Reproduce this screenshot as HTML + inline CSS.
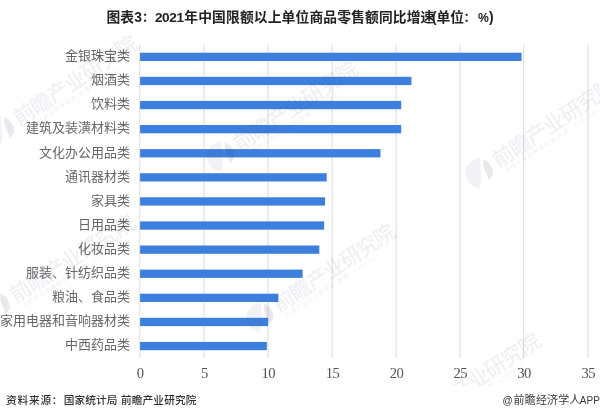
<!DOCTYPE html>
<html lang="zh-CN">
<head>
<meta charset="utf-8">
<title>图表3：2021年中国限额以上单位商品零售额同比增速</title>
<style>
html,body{margin:0;padding:0;background:#fff;}
body{width:600px;height:417px;overflow:hidden;}
svg{display:block;}
text{font-family:"Liberation Sans","Noto Sans CJK SC",sans-serif;}
.title{font-size:13.75px;font-weight:bold;fill:#222;}
.cat{font-size:13px;fill:#666;text-anchor:end;}
.tick{font-family:"Liberation Serif",serif;font-size:14.6px;fill:#525252;text-anchor:middle;letter-spacing:-0.5px;}
.src{font-size:10.7px;font-weight:500;fill:#303030;}
.app{font-size:11px;fill:#383838;}
.wmk{opacity:1;}
.lg1{fill:#37466e;fill-opacity:0.07;}
.lg2{fill:#37466e;fill-opacity:0.12;}
.wm{font-size:21.4px;font-weight:500;fill:#37466e;fill-opacity:0.08;letter-spacing:-1px;}
.wms{font-size:5.4px;font-weight:500;fill:#37466e;fill-opacity:0.075;letter-spacing:1.3px;}
.grid line{stroke:#dadada;stroke-width:1;}
.bars rect{fill:#3d7fde;}
</style>
</head>
<body>
<svg width="600" height="417" viewBox="0 0 600 417">
<rect x="0" y="0" width="600" height="417" fill="#ffffff"/>
<g class="grid">
<line x1="139.80" y1="44.9" x2="139.80" y2="357.6"/>
<line x1="204.00" y1="44.9" x2="204.00" y2="357.6"/>
<line x1="268.00" y1="44.9" x2="268.00" y2="357.6"/>
<line x1="332.20" y1="44.9" x2="332.20" y2="357.6"/>
<line x1="396.20" y1="44.9" x2="396.20" y2="357.6"/>
<line x1="460.00" y1="44.9" x2="460.00" y2="357.6"/>
<line x1="523.70" y1="44.9" x2="523.70" y2="357.6"/>
<line x1="588.00" y1="44.9" x2="588.00" y2="357.6"/>
</g>
<g class="bars">
<rect x="140.1" y="52.70" width="381.44" height="8.3"/>
<rect x="140.1" y="76.80" width="271.36" height="8.3"/>
<rect x="140.1" y="100.90" width="261.12" height="8.3"/>
<rect x="140.1" y="125.00" width="261.12" height="8.3"/>
<rect x="140.1" y="149.10" width="240.38" height="8.3"/>
<rect x="140.1" y="173.20" width="186.62" height="8.3"/>
<rect x="140.1" y="197.30" width="184.96" height="8.3"/>
<rect x="140.1" y="221.40" width="184.06" height="8.3"/>
<rect x="140.1" y="245.50" width="179.20" height="8.3"/>
<rect x="140.1" y="269.60" width="162.56" height="8.3"/>
<rect x="140.1" y="293.70" width="138.24" height="8.3"/>
<rect x="140.1" y="317.80" width="128.00" height="8.3"/>
<rect x="140.1" y="341.90" width="126.72" height="8.3"/>
</g>
<g class="cats">
<text class="cat" x="130.1" y="60.15">金银珠宝类</text>
<text class="cat" x="130.1" y="84.25">烟酒类</text>
<text class="cat" x="130.1" y="108.35">饮料类</text>
<text class="cat" x="130.1" y="132.45">建筑及装潢材料类</text>
<text class="cat" x="130.1" y="156.55">文化办公用品类</text>
<text class="cat" x="130.1" y="180.65">通讯器材类</text>
<text class="cat" x="130.1" y="204.75">家具类</text>
<text class="cat" x="130.1" y="228.85">日用品类</text>
<text class="cat" x="130.1" y="252.95">化妆品类</text>
<text class="cat" x="130.1" y="277.05">服装、针纺织品类</text>
<text class="cat" x="130.1" y="301.15">粮油、食品类</text>
<text class="cat" x="130.1" y="325.25">家用电器和音响器材类</text>
<text class="cat" x="130.1" y="349.35">中西药品类</text>
</g>
<g class="ticks">
<text class="tick" x="140.10" y="378">0</text>
<text class="tick" x="204.30" y="378">5</text>
<text class="tick" x="268.30" y="378">10</text>
<text class="tick" x="332.50" y="378">15</text>
<text class="tick" x="396.50" y="378">20</text>
<text class="tick" x="460.30" y="378">25</text>
<text class="tick" x="524.00" y="378">30</text>
<text class="tick" x="588.30" y="378">35</text>
</g>
<text class="title" y="21.6"><tspan x="106.6">图表</tspan><tspan x="134.2" font-size="13.8">3</tspan><tspan x="141.9" dy="0.8" font-size="12.5">：</tspan><tspan x="154.9" dy="-0.8" font-size="13.6" letter-spacing="-0.35">2021</tspan><tspan x="184.3" letter-spacing="0.15">年中国限额以上单位商品零售额同比增速</tspan><tspan x="432" letter-spacing="0">(</tspan><tspan x="436.4">单位</tspan><tspan x="463.6" dy="0.8" font-size="12.5">：</tspan><tspan x="478" dy="-0.8" font-size="12.2">%</tspan><tspan x="488.9">)</tspan></text>
<g class="wmk">
<g transform="translate(1.5 133.2) scale(1.0)"><g transform="translate(-2.6 -2)"><path class="lg1" d="M2 -14.9 A15 15 0 0 0 1 15 Q4.5 8 3.2 0 Q2 -8 2 -14.9 Z"/><path class="lg2" d="M5.5 -14 A15 15 0 0 1 15 1 L11.2 7.2 L5.5 -7 Z"/></g><g transform="rotate(-33.5)"><text class="wm" x="18.5" y="4.5">前瞻产业研究院</text><text class="wms" x="23" y="12.6">中国产业咨询领导者(股票: 839599)</text></g></g>
<g transform="translate(222 158.5) scale(1.0)"><g transform="translate(-2.6 -2)"><path class="lg1" d="M2 -14.9 A15 15 0 0 0 1 15 Q4.5 8 3.2 0 Q2 -8 2 -14.9 Z"/><path class="lg2" d="M5.5 -14 A15 15 0 0 1 15 1 L11.2 7.2 L5.5 -7 Z"/></g><g transform="rotate(-33.5)"><text class="wm" x="18.5" y="4.5">前瞻产业研究院</text><text class="wms" x="23" y="12.6">中国产业咨询领导者(股票: 839599)</text></g></g>
<g transform="translate(480.5 175.2) scale(1.0)"><g transform="translate(-2.6 -2)"><path class="lg1" d="M2 -14.9 A15 15 0 0 0 1 15 Q4.5 8 3.2 0 Q2 -8 2 -14.9 Z"/><path class="lg2" d="M5.5 -14 A15 15 0 0 1 15 1 L11.2 7.2 L5.5 -7 Z"/></g><g transform="rotate(-33.5)"><text class="wm" x="18.5" y="4.5">前瞻产业研究院</text><text class="wms" x="23" y="12.6">中国产业咨询领导者(股票: 839599)</text></g></g>
<g transform="translate(-2.5 309.5) scale(1.0)"><g transform="translate(-2.6 -2)"><path class="lg1" d="M2 -14.9 A15 15 0 0 0 1 15 Q4.5 8 3.2 0 Q2 -8 2 -14.9 Z"/><path class="lg2" d="M5.5 -14 A15 15 0 0 1 15 1 L11.2 7.2 L5.5 -7 Z"/></g><g transform="rotate(-32.3)"><text class="wm" x="18.5" y="4.5">前瞻产业研究院</text><text class="wms" x="23" y="12.6">中国产业咨询领导者(股票: 839599)</text></g></g>
<g transform="translate(261.3 319.3) scale(0.985)"><g transform="translate(-2.6 -2)"><path class="lg1" d="M2 -14.9 A15 15 0 0 0 1 15 Q4.5 8 3.2 0 Q2 -8 2 -14.9 Z"/><path class="lg2" d="M5.5 -14 A15 15 0 0 1 15 1 L11.2 7.2 L5.5 -7 Z"/></g><g transform="rotate(-33.2)"><text class="wm" x="18.5" y="4.5">前瞻产业研究院</text><text class="wms" x="23" y="12.6">中国产业咨询领导者(股票: 839599)</text></g></g>
<g transform="translate(404.9 430.5) scale(1.0)"><g transform="translate(-2.6 -2)"><path class="lg1" d="M2 -14.9 A15 15 0 0 0 1 15 Q4.5 8 3.2 0 Q2 -8 2 -14.9 Z"/><path class="lg2" d="M5.5 -14 A15 15 0 0 1 15 1 L11.2 7.2 L5.5 -7 Z"/></g><g transform="rotate(-33.5)"><text class="wm" x="18.5" y="4.5">前瞻产业研究院</text><text class="wms" x="23" y="12.6">中国产业咨询领导者(股票: 839599)</text></g></g>
</g>
<rect x="0" y="386" width="600" height="31" fill="#ffffff"/>
<text class="src" y="404.2"><tspan x="6.1" letter-spacing="0.75">资料来源：</tspan><tspan x="63.7" letter-spacing="0.1">国家统计局 </tspan><tspan x="120.9" letter-spacing="0.13">前瞻产业研究院</tspan></text>
<text class="app" y="404.2"><tspan x="502.6" font-size="10">@</tspan><tspan x="513.5" letter-spacing="0.2">前瞻经济学人</tspan><tspan x="579.8" font-size="10">APP</tspan></text>
</svg>
</body>
</html>
